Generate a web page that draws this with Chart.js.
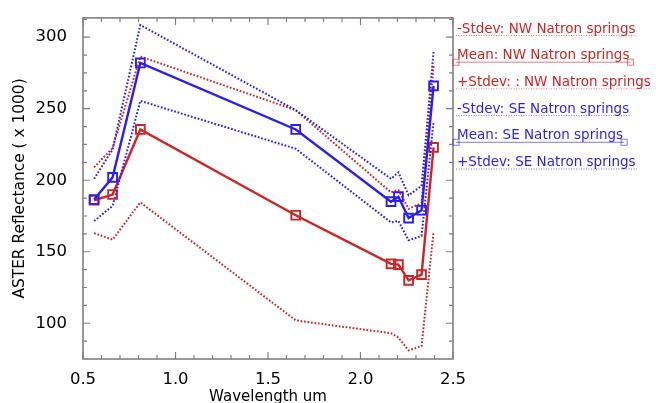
<!DOCTYPE html>
<html lang="en">
<head>
  <meta charset="UTF-8">
  <title>ASTER reflectance - Natron springs</title>
  <style>
    html, body {
      margin: 0;
      padding: 0;
      background: #fff;
    }
    .chart-container {
      position: relative;
      width: 656px;
      height: 403px;
    }
  </style>
  <script src="https://cdn.jsdelivr.net/npm/chart.js"></script>
</head>
<body>
  <div class="chart-container">
    <canvas id="reflectanceChart" width="656" height="403"></canvas>
  </div>

  <script>
    // ASTER band centres (um)
    const wavelengths = [0.56, 0.66, 0.81, 1.65, 2.165, 2.205, 2.26, 2.33, 2.395];

    // NW Natron springs, reflectance x 1000
    const nwMinusStdev = [163, 158.5, 184.5, 102, 93, 90, 81, 84, 164];
    const nwMean       = [186, 190, 235.5, 175.5, 141.5, 141, 130, 134, 223];
    const nwPlusStdev  = [209, 222.5, 286.5, 249, 191.5, 193, 180, 184, 280];

    // SE Natron springs, reflectance x 1000
    const seMinusStdev = [171.5, 182, 255.5, 222, 170.5, 171.5, 158, 161, 241];
    const seMean       = [186.5, 202, 282, 235.5, 185, 188.5, 173.5, 179, 266];
    const sePlusStdev  = [201, 221.5, 308.5, 249, 201, 205.5, 189.5, 196, 290];

    const xTicks = [0.5, 1.0, 1.5, 2.0, 2.5];
    const yTicks = [100, 150, 200, 250, 300];

    const RED = '#d02424';
    const BLUE = '#2a1ff0';
    const FONT = "'DejaVu Sans', Verdana, sans-serif";

    function series(label, values, color, dotted, order) {
      return {
        label: label,
        data: values.map((v, i) => ({ x: wavelengths[i], y: v })),
        borderColor: color,
        borderWidth: dotted ? 2 : 2.4,
        borderDash: dotted ? [1.7, 1.8] : [],
        pointRadius: dotted ? 0 : 6.2,
        pointHoverRadius: dotted ? 0 : 6.2,
        pointStyle: 'rect',
        pointBorderColor: color,
        pointBorderWidth: 1.9,
        pointBackgroundColor: 'rgba(255,255,255,0)',
        tension: 0,
        fill: false,
        order: order,
        dotted: dotted
      };
    }

    // box with inward ticks on all four sides
    const frameAndTicks = {
      id: 'frameAndTicks',
      afterDatasetsDraw(chart) {
        const { ctx, chartArea: a, scales: { x, y } } = chart;
        ctx.save();
        ctx.strokeStyle = '#808080';
        ctx.lineWidth = 1.6;
        ctx.strokeRect(a.left, a.top, a.right - a.left, a.bottom - a.top);
        ctx.lineWidth = 1.2;
        ctx.beginPath();
        for (let t = 5; t <= 25; t++) {
          const px = x.getPixelForValue(t / 10);
          const len = t % 5 === 0 ? 7 : 4;
          ctx.moveTo(px, a.bottom); ctx.lineTo(px, a.bottom - len);
          ctx.moveTo(px, a.top); ctx.lineTo(px, a.top + len);
        }
        for (let v = 87.5; v <= y.max; v += 12.5) {
          const py = y.getPixelForValue(v);
          const len = v % 50 === 0 ? 7 : 4;
          ctx.moveTo(a.left, py); ctx.lineTo(a.left + len, py);
          ctx.moveTo(a.right, py); ctx.lineTo(a.right - len, py);
        }
        ctx.stroke();
        ctx.restore();
      }
    };

    // legend to the right of the plot, each label underlined with its line style
    const sideLegend = {
      id: 'sideLegend',
      afterDraw(chart) {
        const { ctx, chartArea: a } = chart;
        const x0 = a.right + 3;
        ctx.save();
        ctx.font = '13.5px ' + FONT;
        ctx.textBaseline = 'middle';
        chart.data.datasets.forEach((ds, i) => {
          const yc = 29 + i * 26.7;
          const w = ctx.measureText(ds.label).width;
          ctx.fillStyle = ds.borderColor;
          ctx.fillText(ds.label, x0 + 1, yc);
          const ly = yc + 6.5;
          ctx.globalAlpha = 0.6;
          ctx.strokeStyle = ds.borderColor;
          ctx.lineWidth = 1;
          ctx.setLineDash(ds.dotted ? [1, 1.5] : []);
          ctx.beginPath();
          ctx.moveTo(x0, ly);
          ctx.lineTo(x0 + w + 2, ly);
          ctx.stroke();
          ctx.setLineDash([]);
          if (!ds.dotted) {
            ctx.strokeRect(x0 - 3, ly - 3, 6, 6);
            ctx.strokeRect(x0 + w - 1, ly - 3, 6, 6);
          }
          ctx.globalAlpha = 1;
        });
        ctx.restore();
      }
    };

    const ctx = document.getElementById('reflectanceChart').getContext('2d');
    new Chart(ctx, {
      type: 'line',
      data: {
        datasets: [
          series('-Stdev: NW Natron springs', nwMinusStdev, RED, true, 1),
          series('Mean: NW Natron springs', nwMean, RED, false, 1),
          series('+Stdev: : NW Natron springs', nwPlusStdev, RED, true, 1),
          series('-Stdev: SE Natron springs', seMinusStdev, BLUE, true, 0),
          series('Mean: SE Natron springs', seMean, BLUE, false, 0),
          series('+Stdev: SE Natron springs', sePlusStdev, BLUE, true, 0)
        ]
      },
      options: {
        responsive: false,
        animation: false,
        devicePixelRatio: 1,
        layout: {
          padding: { top: 12, right: 203, left: 0, bottom: 0 }
        },
        plugins: {
          legend: { display: false },
          tooltip: { enabled: false }
        },
        scales: {
          x: {
            type: 'linear',
            min: 0.5,
            max: 2.5,
            grid: { display: false },
            border: { display: false },
            afterBuildTicks: s => { s.ticks = xTicks.map(v => ({ value: v })); },
            afterFit: s => { s.height = 44; },
            ticks: {
              padding: 3,
              color: '#000',
              font: { family: FONT, size: 16.5 },
              callback: v => v.toFixed(1)
            },
            title: {
              display: true,
              text: 'Wavelength um',
              color: '#000',
              font: { family: FONT, size: 15 },
              padding: { top: 0, bottom: -3 }
            }
          },
          y: {
            min: 75,
            max: 313.5,
            grid: { display: false },
            border: { display: false },
            afterBuildTicks: s => { s.ticks = yTicks.map(v => ({ value: v })); },
            afterFit: s => { s.width = 83; },
            ticks: {
              padding: 8,
              color: '#000',
              font: { family: FONT, size: 16.5 }
            },
            title: {
              display: true,
              text: 'ASTER Reflectance ( x 1000)',
              color: '#000',
              font: { family: FONT, size: 15.4 },
              padding: { top: 10.5, bottom: 0 }
            }
          }
        }
      },
      plugins: [frameAndTicks, sideLegend]
    });
  </script>
</body>
</html>
